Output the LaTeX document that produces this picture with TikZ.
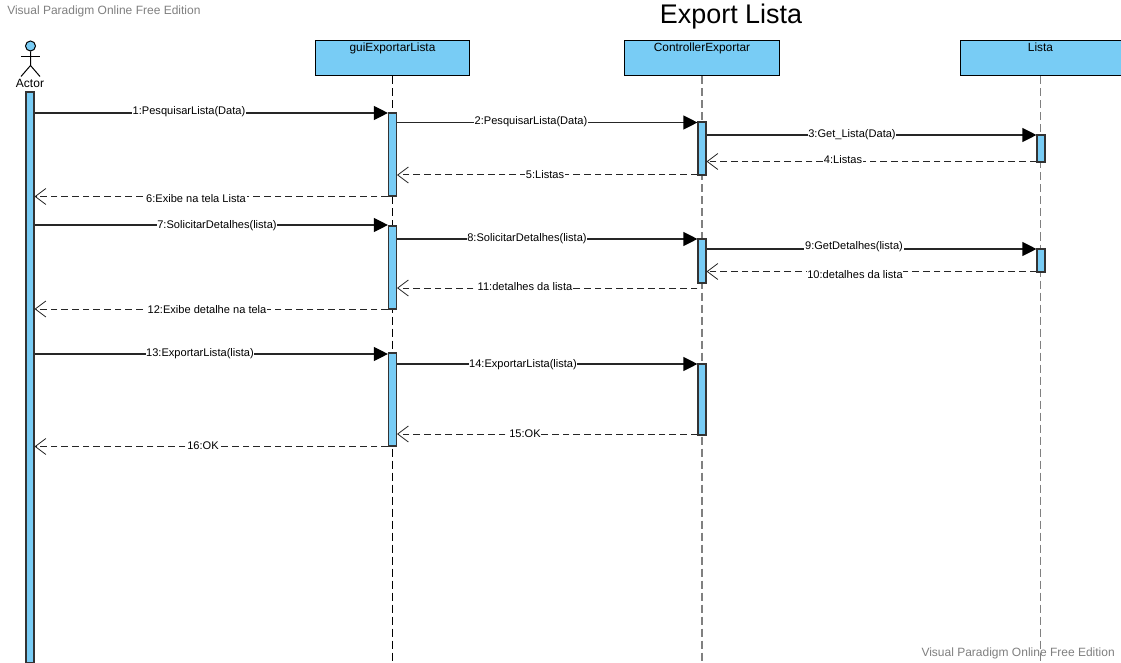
\documentclass[tikz,border=0pt]{standalone}
\usepackage{fontspec}
\setmainfont{Liberation Sans}
\usetikzlibrary{arrows.meta}
\definecolor{lb}{rgb}{.47,.80,.96}
\definecolor{wm}{rgb}{.50,.50,.50}
\tikzset{
  obj/.style={rectangle, draw=black, line width=.75pt, fill=lb, minimum height=35.5*.75pt, inner sep=0pt, text depth=18.1pt, text height=8.5pt, font=\fontsize{8.9pt}{10pt}\selectfont},
  bar/.style={rectangle, draw=black!80, line width=.85pt, fill=lb, minimum width=8*.75pt, inner sep=0pt},
  life/.style={line width=.8pt, dash pattern=on 6pt off 3pt},
  call/.style={line width=.85pt, black!85, -{Triangle[length=10.5pt,width=10.5pt,color=black]}},
  back/.style={line width=.75pt, black!85, dash pattern=on 5pt off 3pt, -{Straight Barb[length=8pt,width=12pt,line width=.6pt]}},
  msg/.style={fill=white, inner xsep=.5pt, inner ysep=.5pt, yshift=-.6pt, font=\fontsize{8.3pt}{9pt}\selectfont},
  wmark/.style={text=wm, inner sep=0pt, yshift=-.5pt, font=\fontsize{9pt}{11pt}\selectfont}
}
\begin{document}
\begin{tikzpicture}[x=.75pt, y=-.75pt]
  \useasboundingbox (0,0) rectangle (1121,663);
  \fill[white] (0,0) rectangle (1121,663);

  \node[wmark, anchor=west] (wm1) at (7,11) {Visual Paradigm Online Free Edition};
  \node[wmark, anchor=east] (wm2) at (1115,653) {Visual Paradigm Online Free Edition};
  \node[inner sep=0pt, font=\fontsize{20.2pt}{24pt}\selectfont] (title) at (731,17) {Export Lista};

  % actor
  \node[circle, draw=black, line width=.75pt, fill=lb, minimum size=10*.75pt, inner sep=0pt] (head) at (30.5,46) {};
  \draw[line width=.75pt] (head.south) -- ++(0,14) coordinate (hip) -- ++(-9.5,11);
  \draw[line width=.75pt] (hip) -- ++(9.5,11);
  \draw[line width=.75pt] (21,56.5) -- (40,56.5);
  \node[inner sep=0pt, font=\fontsize{9pt}{11pt}\selectfont] (actor) at (30,83) {Actor};

  % objects
  \node[obj, minimum width=154*.75pt] (gui) at (392.5,58.25) {guiExportarLista};
  \node[obj, minimum width=155*.75pt] (ctrl) at (702,58.25) {ControllerExportar};
  \node[obj, minimum width=161*.75pt] (lista) at (1040.5,58.25) {Lista};

  % lifelines
  \coordinate (guiend) at (392.5,663);
  \coordinate (ctrlend) at (702,663);
  \coordinate (listaend) at (1040.5,663);
  \draw[life] (gui.south) -- (guiend);
  \draw[life, color=wm, line width=1pt] (ctrl.south) -- (ctrlend);
  \draw[life, color=wm, line width=1pt] (lista.south) -- (listaend);

  % activation bars
  \node[bar, minimum height=571*.75pt] (actbar) at (30,377.5) {};

  \node[bar, minimum height=83*.75pt] (gui1) at (392.5,154.5) {};
  \node[bar, minimum height=83*.75pt] (gui2) at (392.5,267.5) {};
  \node[bar, minimum height=93*.75pt] (gui3) at (392.5,399.5) {};

  \node[bar, minimum height=53*.75pt] (ctrl1) at (702,148.5) {};
  \node[bar, minimum height=44*.75pt] (ctrl2) at (702,261) {};
  \node[bar, minimum height=71*.75pt] (ctrl3) at (702,399.5) {};

  \node[bar, minimum height=27*.75pt] (lista1) at (1041,148.5) {};
  \node[bar, minimum height=23*.75pt] (lista2) at (1041,260.5) {};

  % first round
  \draw[call] (actbar.east |- 0,113) -- (gui1.north west |- 0,113);
  \node[msg] (m1) at (189,111) {1:PesquisarLista(Data)};
  \draw[call] (gui1.east |- 0,122.5) -- (ctrl1.north west |- 0,122.5);
  \node[msg] (m2) at (531,121) {2:PesquisarLista(Data)};
  \draw[call] (ctrl1.east |- 0,135) -- (lista1.north west |- 0,135);
  \node[msg] (m3) at (852,134) {3:Get\_Lista(Data)};
  \draw[back] (lista1.west |- 0,161.5) -- (ctrl1.east |- 0,161.5);
  \node[msg] (m4) at (843,159) {4:Listas};
  \draw[back] (ctrl1.west |- 0,175) -- (gui1.east |- 0,175);
  \node[msg] (m5) at (545,174) {5:Listas};
  \draw[back] (gui1.west |- 0,196.5) -- (actbar.east |- 0,196.5);
  \node[msg] (m6) at (196,198) {6:Exibe na tela Lista};

  % second round
  \draw[call] (actbar.east |- 0,225) -- (gui2.north west |- 0,225);
  \node[msg] (m7) at (217,225) {7:SolicitarDetalhes(lista)};
  \draw[call] (gui2.east |- 0,239) -- (ctrl2.north west |- 0,239);
  \node[msg] (m8) at (527,238) {8:SolicitarDetalhes(lista)};
  \draw[call] (ctrl2.east |- 0,249) -- (lista2.north west |- 0,249);
  \node[msg] (m9) at (854,246) {9:GetDetalhes(lista)};
  \draw[back] (lista2.west |- 0,271.5) -- (ctrl2.east |- 0,271.5);
  \node[msg] (m10) at (855,274) {10:detalhes da lista};
  \draw[back] (ctrl2.west |- 0,288) -- (gui2.east |- 0,288);
  \node[msg] (m11) at (525,286) {11:detalhes da lista};
  \draw[back] (gui2.west |- 0,309) -- (actbar.east |- 0,309);
  \node[msg] (m12) at (207,309) {12:Exibe detalhe na tela};

  % third round
  \draw[call] (actbar.east |- 0,354) -- (gui3.north west |- 0,354);
  \node[msg] (m13) at (200,353) {13:ExportarLista(lista)};
  \draw[call] (gui3.east |- 0,364) -- (ctrl3.north west |- 0,364);
  \node[msg] (m14) at (523,364) {14:ExportarLista(lista)};
  \draw[back] (ctrl3.west |- 0,434) -- (gui3.east |- 0,434);
  \node[msg] (m15) at (525,433) {15:OK};
  \draw[back] (gui3.west |- 0,446.5) -- (actbar.east |- 0,446.5);
  \node[msg] (m16) at (203,445) {16:OK};
\end{tikzpicture}
\end{document}
